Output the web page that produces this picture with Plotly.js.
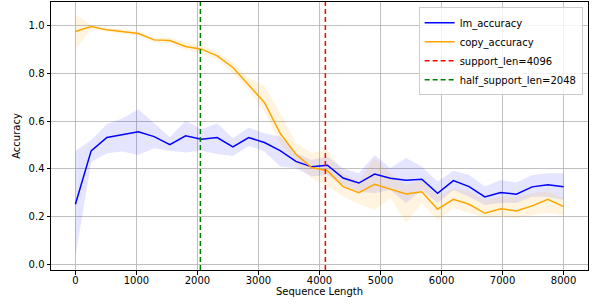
<!DOCTYPE html>
<html>
<head>
<meta charset="utf-8">
<script src="https://cdn.plot.ly/plotly-3.0.1.min.js"></script>
<style>html,body{margin:0;padding:0;background:#fff;}#chart{width:594px;height:307px;}</style>
</head>
<body>
<div id="chart"></div>
<script>
const seqLen = [0,258,516,774,1032,1290,1548,1806,2065,2323,2581,2839,3097,3355,3613,3871,4129,4387,4645,4903,5161,5419,5677,5935,6194,6452,6710,6968,7226,7484,7742,8000];
const lmAcc = [0.251,0.475,0.531,0.542,0.555,0.535,0.501,0.538,0.524,0.531,0.492,0.531,0.510,0.476,0.431,0.408,0.415,0.361,0.340,0.378,0.360,0.352,0.356,0.297,0.350,0.325,0.282,0.300,0.293,0.324,0.333,0.324];
const lmUpper = [0.475,0.521,0.588,0.612,0.650,0.591,0.532,0.602,0.566,0.591,0.528,0.573,0.549,0.535,0.465,0.437,0.451,0.402,0.381,0.458,0.403,0.445,0.409,0.346,0.392,0.374,0.325,0.353,0.342,0.374,0.381,0.381];
const lmLower = [0.031,0.427,0.465,0.472,0.458,0.486,0.476,0.468,0.476,0.462,0.454,0.496,0.472,0.409,0.402,0.367,0.374,0.332,0.304,0.297,0.311,0.256,0.311,0.256,0.311,0.283,0.248,0.256,0.256,0.283,0.283,0.269];
const copyAcc = [0.976,0.997,0.983,0.976,0.968,0.941,0.938,0.913,0.902,0.874,0.825,0.752,0.678,0.549,0.461,0.405,0.392,0.325,0.300,0.335,0.314,0.294,0.303,0.230,0.272,0.251,0.213,0.232,0.223,0.244,0.272,0.241];
const copyUpper = [1.046,1.005,0.990,0.985,0.978,0.950,0.950,0.930,0.920,0.890,0.846,0.780,0.748,0.634,0.508,0.466,0.479,0.382,0.346,0.445,0.382,0.332,0.353,0.283,0.318,0.304,0.269,0.283,0.283,0.297,0.304,0.277];
const copyLower = [0.902,0.985,0.975,0.965,0.958,0.930,0.925,0.900,0.885,0.858,0.800,0.730,0.640,0.508,0.424,0.360,0.325,0.283,0.252,0.227,0.277,0.172,0.256,0.185,0.235,0.214,0.193,0.199,0.193,0.206,0.214,0.206];
const supportLen = 4096;
const halfSupportLen = 2048;
const yRange = [-0.025, 1.10];

const traces = [
  {x: seqLen, y: lmLower, mode: 'lines', line: {width: 0}, showlegend: false, hoverinfo: 'skip'},
  {x: seqLen, y: lmUpper, mode: 'lines', line: {width: 0}, fill: 'tonexty', fillcolor: 'rgba(0,0,255,0.1)', showlegend: false, hoverinfo: 'skip'},
  {x: seqLen, y: copyLower, mode: 'lines', line: {width: 0}, showlegend: false, hoverinfo: 'skip'},
  {x: seqLen, y: copyUpper, mode: 'lines', line: {width: 0}, fill: 'tonexty', fillcolor: 'rgba(255,165,0,0.12)', showlegend: false, hoverinfo: 'skip'},
  {x: seqLen, y: lmAcc, mode: 'lines', name: 'lm_accuracy', line: {color: '#0000ff', width: 1.5}},
  {x: seqLen, y: copyAcc, mode: 'lines', name: 'copy_accuracy', line: {color: '#ffa500', width: 1.5}},
  {x: [supportLen, supportLen], y: yRange, mode: 'lines', name: 'support_len=' + supportLen, line: {color: '#ff0000', width: 1.5, dash: '5px,3px'}},
  {x: [halfSupportLen, halfSupportLen], y: yRange, mode: 'lines', name: 'half_support_len=' + halfSupportLen, line: {color: '#008000', width: 1.5, dash: '5px,3px'}}
];

const layout = {
  width: 594, height: 307,
  margin: {l: 51, r: 6, t: 2, b: 37},
  paper_bgcolor: '#fff', plot_bgcolor: '#fff',
  font: {family: 'DejaVu Sans', size: 10, color: '#000'},
  showlegend: true,
  xaxis: {
    range: [-400, 8400], tickvals: [0,1000,2000,3000,4000,5000,6000,7000,8000],
    showgrid: true, gridcolor: '#b0b0b0', gridwidth: 0.8, zeroline: false,
    showline: true, linecolor: '#000', linewidth: 1, mirror: true,
    ticks: 'outside', ticklen: 3.5, tickcolor: '#000', ticklabelstandoff: -3,
    title: {text: 'Sequence Length', font: {size: 10}, standoff: 2}
  },
  yaxis: {
    range: yRange, tickvals: [0,0.2,0.4,0.6,0.8,1.0], tickformat: '.1f',
    showgrid: true, gridcolor: '#b0b0b0', gridwidth: 0.8, zeroline: false,
    showline: true, linecolor: '#000', linewidth: 1, mirror: true,
    ticks: 'outside', ticklen: 3.5, tickcolor: '#000',
    title: {text: 'Accuracy', font: {size: 10}, standoff: 6}
  },
  legend: {
    x: 0.99, y: 0.98, xanchor: 'right', yanchor: 'top', traceorder: 'normal',
    bgcolor: 'rgba(255,255,255,0.8)', bordercolor: '#cccccc', borderwidth: 1,
    font: {size: 10}, tracegroupgap: 0, itemwidth: 30
  }
};

Plotly.newPlot('chart', traces, layout, {displayModeBar: false, staticPlot: true});
</script>
</body>
</html>
